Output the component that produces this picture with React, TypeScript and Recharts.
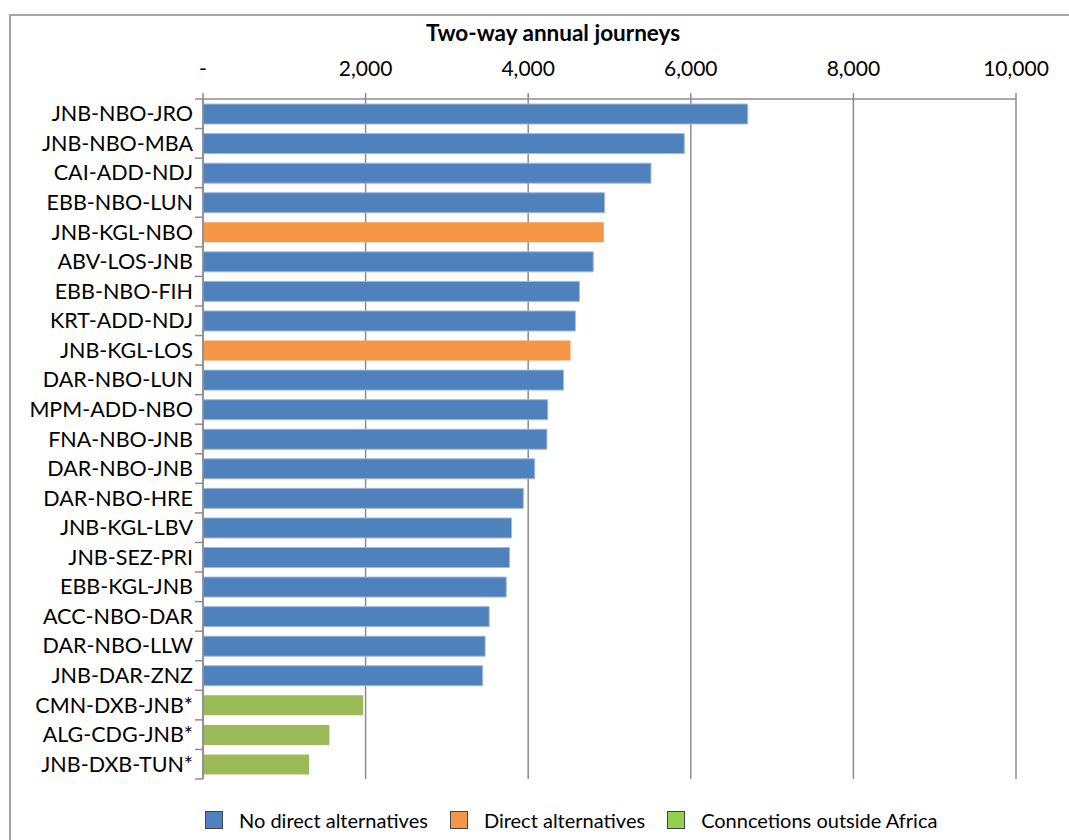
import { BarChart, Bar, XAxis, YAxis, CartesianGrid, Cell, Legend } from 'recharts';

const routes = [
  'JNB-NBO-JRO', 'JNB-NBO-MBA', 'CAI-ADD-NDJ', 'EBB-NBO-LUN', 'JNB-KGL-NBO',
  'ABV-LOS-JNB', 'EBB-NBO-FIH', 'KRT-ADD-NDJ', 'JNB-KGL-LOS', 'DAR-NBO-LUN',
  'MPM-ADD-NBO', 'FNA-NBO-JNB', 'DAR-NBO-JNB', 'DAR-NBO-HRE', 'JNB-KGL-LBV',
  'JNB-SEZ-PRI', 'EBB-KGL-JNB', 'ACC-NBO-DAR', 'DAR-NBO-LLW', 'JNB-DAR-ZNZ',
  'CMN-DXB-JNB*', 'ALG-CDG-JNB*', 'JNB-DXB-TUN*',
];

const journeys = [
  6700, 5920, 5510, 4940, 4930,
  4800, 4630, 4580, 4520, 4435,
  4240, 4230, 4080, 3940, 3795,
  3770, 3730, 3520, 3470, 3440,
  1970, 1555, 1305,
];

// 0 = no direct alternatives, 1 = direct alternatives, 2 = outside Africa
const groups = [
  0, 0, 0, 0, 1,
  0, 0, 0, 1, 0,
  0, 0, 0, 0, 0,
  0, 0, 0, 0, 0,
  2, 2, 2,
];

const groupNames = ['No direct alternatives', 'Direct alternatives', 'Conncetions outside Africa'];
const barColors = ['#4F81BD', '#F79646', '#9BBB59'];
const legendColors = ['#4F81BD', '#F79646', '#92D050'];

const xTicks = [0, 2000, 4000, 6000, 8000, 10000];

const data = routes.map((route, i) => ({ route, value: journeys[i], group: groups[i] }));

const FONT = 'Lato, "Liberation Sans", sans-serif';
const GRID = '#8c8c8c';

const formatTick = (v: number) => (v === 0 ? '-' : v.toLocaleString('en-US'));

// plot area is 680px tall for 23 rows
const HALF_BAND = 680 / routes.length / 2;

const RouteTick = (props: any) => {
  const { x, y, payload, index } = props;
  const isLast = index === routes.length - 1;
  return (
    <g>
      <line x1={x + 2} x2={x + 10} y1={y - HALF_BAND} y2={y - HALF_BAND} stroke={GRID} strokeWidth={1.5} />
      {isLast && (
        <line x1={x + 2} x2={x + 10} y1={y + HALF_BAND} y2={y + HALF_BAND} stroke={GRID} strokeWidth={1.5} />
      )}
      <text x={x} y={y} dy="0.35em" textAnchor="end" fill="#000" fontSize={21.5} fontFamily={FONT}>
        {payload.value}
      </text>
    </g>
  );
};

const LegendContent = () => (
  <div style={{ display: 'flex', alignItems: 'center', paddingLeft: 205, fontFamily: FONT, fontSize: 20 }}>
    {groupNames.map((name, i) => (
      <div key={name} style={{ display: 'flex', alignItems: 'center', marginRight: 22 }}>
        <span
          style={{
            display: 'inline-block',
            width: 16,
            height: 16,
            background: legendColors[i],
            border: '1px solid #444',
            marginRight: 16,
          }}
        />
        <span>{name}</span>
      </div>
    ))}
  </div>
);

export default function App() {
  return (
    <div style={{ position: 'absolute', left: 0, top: 0, width: 1069, height: 840, overflow: 'hidden', background: '#fff', fontFamily: FONT }}>
      <div style={{ position: 'absolute', left: 9, top: 14, width: 1200, height: 1000, border: '2px solid #a6a6a6' }} />
      <div
        style={{
          position: 'absolute',
          left: 303,
          top: 20,
          width: 500,
          textAlign: 'center',
          fontWeight: 'bold',
          fontSize: 22.5,
          lineHeight: '26px',
        }}
      >
        Two-way annual journeys
      </div>
      <BarChart
        width={1069}
        height={840}
        data={data}
        layout="vertical"
        margin={{ top: 49, right: 53, bottom: 37, left: 0 }}
        barCategoryGap="17%"
        style={{ position: 'absolute', left: 0, top: 0 }}
      >
        <CartesianGrid horizontal={false} stroke={GRID} strokeWidth={1.5} />
        <XAxis
          type="number"
          orientation="top"
          domain={[0, 10000]}
          ticks={xTicks}
          tickFormatter={formatTick}
          height={50}
          tickSize={6}
          tickMargin={17}
          interval={0}
          stroke={GRID}
          strokeWidth={1.5}
          tick={{ fill: '#000', fontSize: 21, fontFamily: FONT }}
        />
        <YAxis
          type="category"
          dataKey="route"
          width={203}
          tickSize={8}
          tickMargin={2}
          tickLine={false}
          interval={0}
          stroke={GRID}
          strokeWidth={1.5}
          tick={<RouteTick />}
        />
        <Legend verticalAlign="bottom" content={<LegendContent />} wrapperStyle={{ left: 0, bottom: 8, width: 1069 }} />
        <Bar dataKey="value" isAnimationActive={false}>
          {data.map((d, i) => (
            <Cell
              key={i}
              fill={barColors[d.group]}
              stroke={d.group === 0 ? '#9FBADB' : 'none'}
              strokeWidth={1}
            />
          ))}
        </Bar>
      </BarChart>
    </div>
  );
}
